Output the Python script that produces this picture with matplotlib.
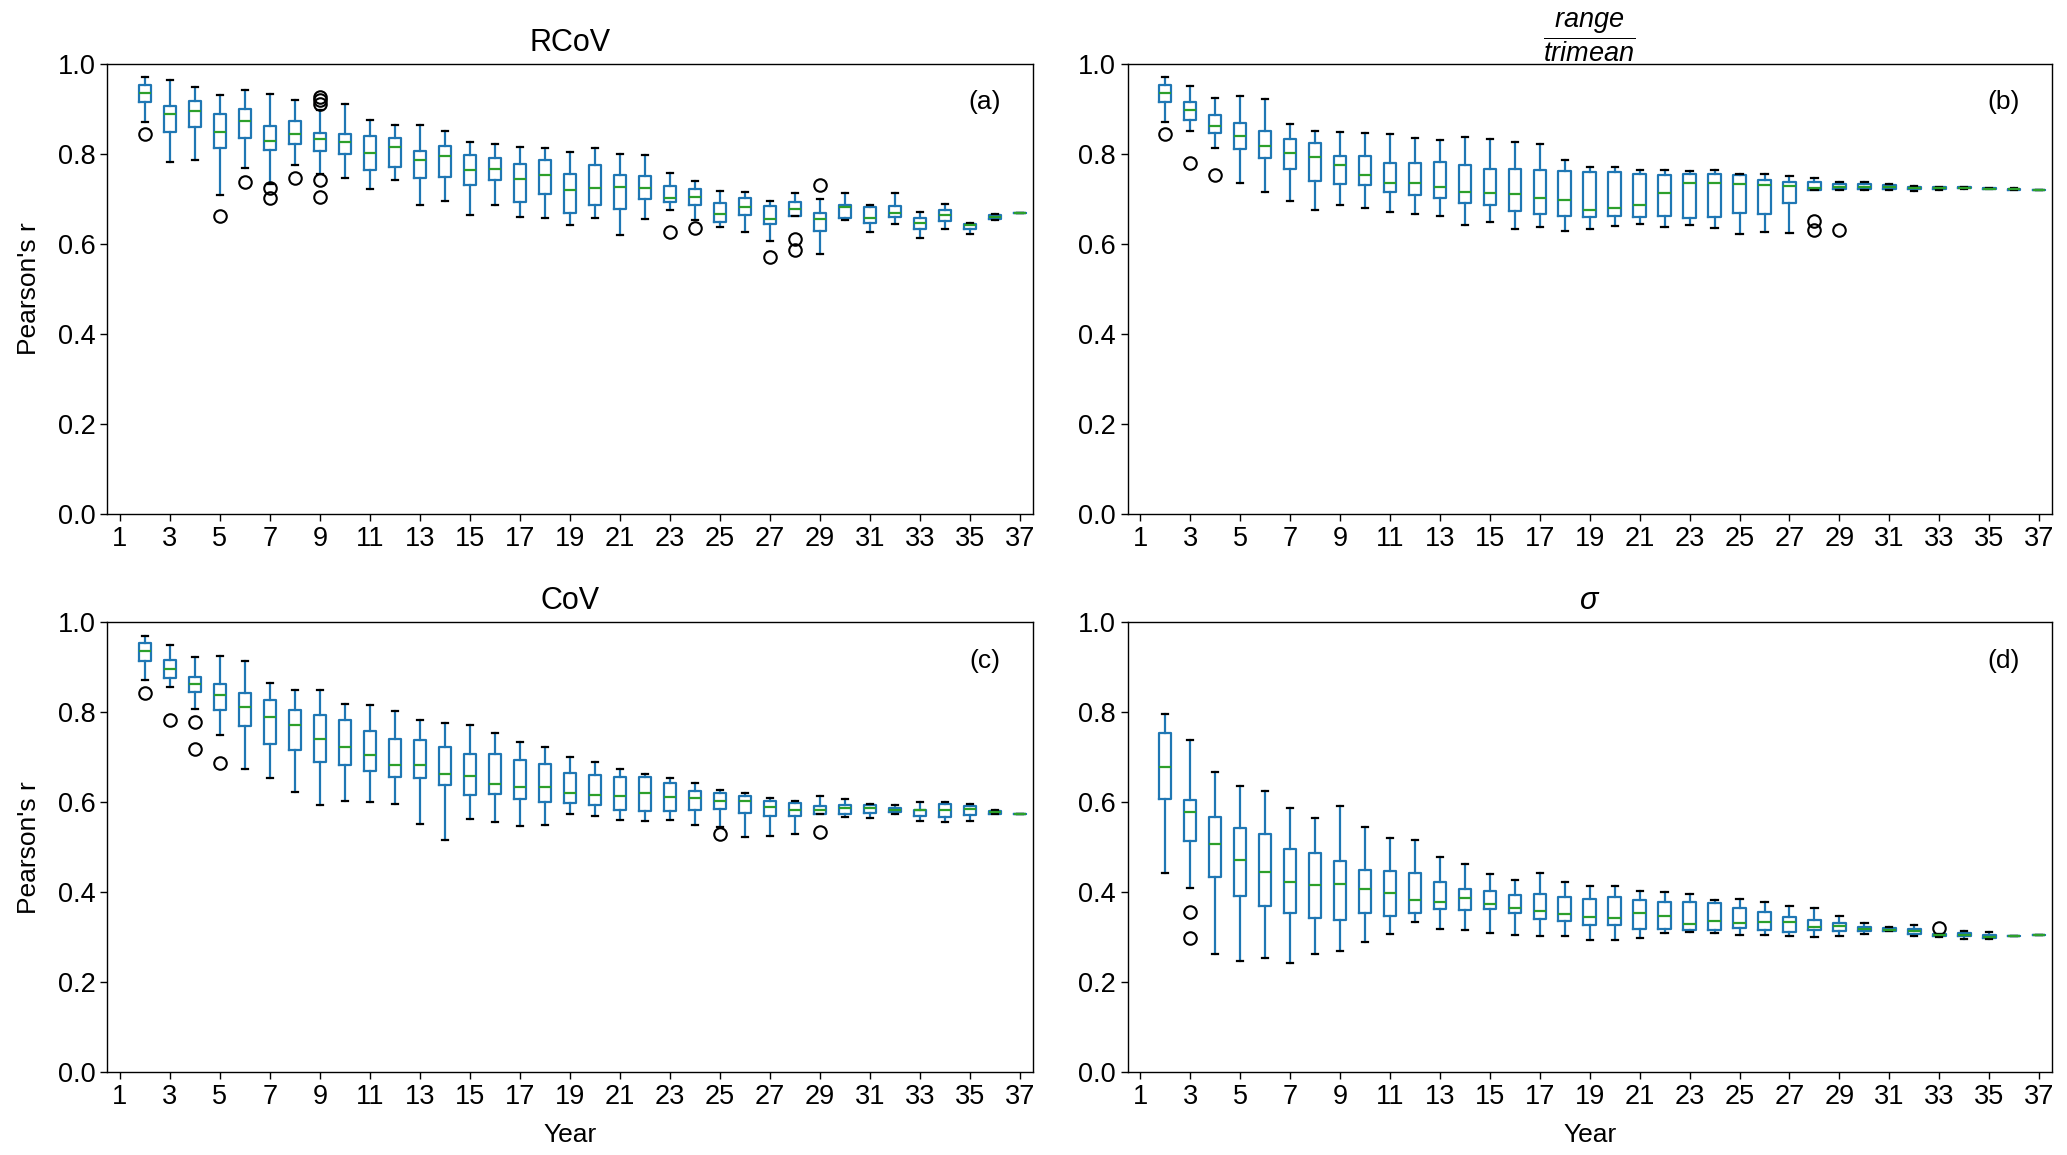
import matplotlib
matplotlib.use("Agg")
import matplotlib.pyplot as plt

plt.rcParams['font.family'] = ['Liberation Sans', 'DejaVu Sans']
plt.rcParams['mathtext.fontset'] = 'custom'
plt.rcParams['mathtext.it'] = 'Liberation Sans:italic'
plt.rcParams['mathtext.rm'] = 'Liberation Sans'
plt.rcParams['mathtext.fallback'] = 'cm'

years = list(range(2, 38))
xtick_labels = list(range(1, 38, 2))

# ---- (a) RCoV ----
whislo_a = [0.871,0.781,0.787,0.709,0.769,0.732,0.775,0.756,0.747,0.721,0.741,0.686,0.696,0.664,0.685,0.660,0.658,0.641,0.658,0.619,0.656,0.676,0.653,0.637,0.627,0.605,0.662,0.578,0.653,0.627,0.644,0.612,0.633,0.622,0.652,0.669]
q1_a = [0.914,0.848,0.860,0.813,0.835,0.808,0.821,0.805,0.799,0.764,0.770,0.747,0.748,0.730,0.741,0.693,0.710,0.669,0.687,0.677,0.699,0.692,0.687,0.649,0.664,0.644,0.662,0.628,0.658,0.647,0.659,0.633,0.650,0.633,0.656,0.669]
med_a = [0.936,0.889,0.896,0.848,0.873,0.828,0.843,0.833,0.827,0.801,0.816,0.787,0.796,0.763,0.767,0.744,0.753,0.720,0.724,0.726,0.723,0.702,0.703,0.667,0.681,0.655,0.678,0.654,0.681,0.658,0.668,0.647,0.663,0.641,0.660,0.669]
q3_a = [0.953,0.906,0.918,0.888,0.899,0.861,0.872,0.846,0.844,0.839,0.836,0.807,0.818,0.798,0.790,0.777,0.787,0.755,0.774,0.752,0.750,0.728,0.721,0.690,0.701,0.683,0.693,0.668,0.685,0.681,0.684,0.657,0.675,0.644,0.664,0.669]
whishi_a = [0.970,0.963,0.949,0.930,0.942,0.932,0.920,0.897,0.910,0.876,0.863,0.863,0.850,0.827,0.821,0.816,0.812,0.803,0.813,0.799,0.798,0.757,0.739,0.718,0.714,0.696,0.712,0.699,0.713,0.687,0.712,0.671,0.688,0.645,0.667,0.669]
fliers_a = {2: [0.844], 5: [0.661], 6: [0.737], 7: [0.723, 0.701], 8: [0.745],
            9: [0.927, 0.919, 0.910, 0.741, 0.703], 23: [0.627], 24: [0.636],
            27: [0.570], 28: [0.611, 0.587], 29: [0.731]}

# ---- (b) range / trimean ----
whislo_b = [0.871,0.851,0.812,0.736,0.716,0.696,0.676,0.687,0.679,0.670,0.667,0.661,0.641,0.649,0.633,0.637,0.628,0.633,0.640,0.644,0.638,0.642,0.636,0.621,0.626,0.624,0.719,0.720,0.720,0.720,0.717,0.720,0.722,0.721,0.719,0.719]
q1_b = [0.914,0.876,0.846,0.810,0.791,0.767,0.739,0.732,0.730,0.714,0.708,0.701,0.691,0.687,0.673,0.666,0.662,0.660,0.661,0.660,0.662,0.657,0.660,0.668,0.667,0.691,0.719,0.721,0.722,0.721,0.722,0.721,0.723,0.722,0.720,0.719]
med_b = [0.936,0.898,0.862,0.839,0.817,0.801,0.793,0.776,0.753,0.736,0.734,0.727,0.716,0.713,0.710,0.702,0.697,0.675,0.679,0.686,0.713,0.736,0.734,0.733,0.731,0.728,0.724,0.726,0.727,0.727,0.724,0.723,0.724,0.722,0.721,0.719]
q3_b = [0.953,0.914,0.885,0.868,0.850,0.832,0.824,0.796,0.794,0.780,0.779,0.781,0.776,0.767,0.766,0.763,0.761,0.760,0.759,0.756,0.753,0.754,0.754,0.752,0.742,0.738,0.738,0.733,0.733,0.731,0.726,0.725,0.725,0.723,0.722,0.719]
whishi_b = [0.970,0.951,0.924,0.928,0.922,0.867,0.851,0.848,0.847,0.843,0.836,0.830,0.837,0.832,0.827,0.821,0.787,0.770,0.770,0.764,0.764,0.761,0.763,0.756,0.755,0.750,0.745,0.737,0.737,0.733,0.728,0.726,0.726,0.723,0.723,0.719]
fliers_b = {2: [0.843], 3: [0.779], 4: [0.753], 28: [0.651, 0.630], 29: [0.630]}

# ---- (c) CoV ----
whislo_c = [0.871,0.856,0.808,0.749,0.673,0.653,0.622,0.593,0.604,0.600,0.596,0.552,0.516,0.563,0.556,0.547,0.550,0.573,0.569,0.561,0.558,0.561,0.549,0.545,0.523,0.525,0.529,0.573,0.567,0.566,0.573,0.559,0.556,0.559,0.573,0.573]
q1_c = [0.914,0.876,0.845,0.806,0.769,0.730,0.716,0.690,0.684,0.669,0.656,0.653,0.638,0.616,0.619,0.607,0.601,0.599,0.594,0.584,0.580,0.581,0.582,0.586,0.576,0.569,0.569,0.573,0.575,0.577,0.579,0.569,0.567,0.571,0.575,0.573]
med_c = [0.936,0.896,0.864,0.838,0.812,0.790,0.772,0.741,0.724,0.705,0.683,0.683,0.664,0.658,0.640,0.633,0.633,0.620,0.617,0.614,0.620,0.612,0.610,0.603,0.602,0.589,0.582,0.583,0.587,0.587,0.584,0.583,0.584,0.585,0.579,0.573]
q3_c = [0.953,0.916,0.879,0.864,0.844,0.828,0.805,0.793,0.784,0.759,0.741,0.738,0.724,0.708,0.707,0.694,0.686,0.665,0.660,0.657,0.656,0.644,0.626,0.621,0.615,0.603,0.598,0.591,0.593,0.593,0.588,0.584,0.596,0.591,0.581,0.573]
whishi_c = [0.970,0.949,0.924,0.926,0.913,0.865,0.850,0.850,0.819,0.816,0.803,0.784,0.776,0.771,0.753,0.734,0.723,0.700,0.690,0.674,0.662,0.653,0.642,0.628,0.621,0.610,0.603,0.613,0.608,0.596,0.593,0.600,0.600,0.596,0.584,0.573]
fliers_c = {2: [0.843], 3: [0.783], 4: [0.779, 0.719], 5: [0.687], 25: [0.530], 29: [0.534]}

# ---- (d) sigma ----
whislo_d = [0.444,0.410,0.264,0.248,0.255,0.244,0.262,0.269,0.289,0.307,0.333,0.319,0.317,0.310,0.306,0.304,0.303,0.293,0.295,0.299,0.310,0.311,0.310,0.305,0.305,0.304,0.301,0.304,0.307,0.313,0.304,0.301,0.297,0.297,0.303,0.306]
q1_d = [0.607,0.514,0.433,0.391,0.369,0.355,0.344,0.339,0.353,0.347,0.353,0.362,0.361,0.363,0.355,0.341,0.336,0.328,0.327,0.319,0.319,0.316,0.316,0.321,0.317,0.312,0.317,0.314,0.313,0.313,0.308,0.304,0.302,0.299,0.303,0.306]
med_d = [0.678,0.579,0.507,0.471,0.445,0.424,0.416,0.419,0.407,0.399,0.383,0.378,0.388,0.373,0.365,0.359,0.351,0.346,0.344,0.355,0.347,0.329,0.337,0.332,0.335,0.333,0.323,0.325,0.318,0.317,0.314,0.306,0.305,0.301,0.303,0.306]
q3_d = [0.753,0.605,0.567,0.544,0.529,0.496,0.487,0.469,0.450,0.447,0.442,0.424,0.408,0.402,0.393,0.396,0.390,0.385,0.390,0.384,0.379,0.379,0.376,0.366,0.356,0.345,0.339,0.331,0.322,0.321,0.319,0.308,0.309,0.306,0.303,0.306]
whishi_d = [0.796,0.739,0.667,0.636,0.625,0.588,0.565,0.592,0.546,0.520,0.516,0.479,0.462,0.440,0.427,0.444,0.424,0.414,0.413,0.404,0.401,0.396,0.384,0.385,0.378,0.369,0.366,0.347,0.331,0.324,0.327,0.307,0.313,0.311,0.303,0.306]
fliers_d = {3: [0.356, 0.298], 33: [0.320]}

panels = [
    ("RCoV", "(a)", whislo_a, q1_a, med_a, q3_a, whishi_a, fliers_a),
    (r"$\dfrac{range}{trimean}$", "(b)", whislo_b, q1_b, med_b, q3_b, whishi_b, fliers_b),
    ("CoV", "(c)", whislo_c, q1_c, med_c, q3_c, whishi_c, fliers_c),
    (r"$\sigma$", "(d)", whislo_d, q1_d, med_d, q3_d, whishi_d, fliers_d),
]

W, H = 2067, 1155
fig = plt.figure(figsize=(W / 100, H / 100), dpi=100)
rects = [
    [107.3 / W, 1 - 513.7 / H, 925.4 / W, 450 / H],
    [1127.7 / W, 1 - 513.7 / H, 924.0 / W, 450 / H],
    [107.3 / W, 1 - 1072.3 / H, 925.4 / W, 450 / H],
    [1127.7 / W, 1 - 1072.3 / H, 924.0 / W, 450 / H],
]

blue = '#1f77b4'
green = '#2ca02c'
lw = 1.6

for i, (title, tag, wl, q1, med, q3, wh, fl) in enumerate(panels):
    ax = fig.add_axes(rects[i])
    stats = []
    for j, yr in enumerate(years):
        stats.append(dict(whislo=wl[j], q1=q1[j], med=med[j], q3=q3[j],
                          whishi=wh[j], fliers=fl.get(yr, [])))
    ax.bxp(stats, positions=years, widths=0.5, showfliers=True,
           boxprops=dict(color=blue, linewidth=lw),
           whiskerprops=dict(color=blue, linewidth=lw),
           capprops=dict(color='k', linewidth=lw),
           medianprops=dict(color=green, linewidth=lw),
           flierprops=dict(marker='o', markerfacecolor='none',
                           markeredgecolor='k', markersize=9,
                           markeredgewidth=1.5))
    ax.set_xlim(0.5, 37.5)
    ax.set_ylim(0.0, 1.0)
    ax.set_xticks(xtick_labels)
    ax.set_xticklabels([str(v) for v in xtick_labels])
    ax.set_yticks([0.0, 0.2, 0.4, 0.6, 0.8, 1.0])
    ax.set_yticklabels(["0.0", "0.2", "0.4", "0.6", "0.8", "1.0"])
    ax.tick_params(labelsize=19.5, length=5, width=1.0)
    for s in ax.spines.values():
        s.set_linewidth(1.0)
    if i == 1:
        ax.set_title(title, fontsize=19.5, pad=4)
    else:
        ax.set_title(title, fontsize=22, pad=9.5)
    ax.text(0.948, 0.915, tag, transform=ax.transAxes, ha='center',
            va='center', fontsize=19)
    if i in (0, 2):
        ax.set_ylabel("Pearson's r", fontsize=19, labelpad=12)
    if i in (2, 3):
        ax.set_xlabel("Year", fontsize=19, labelpad=9)

fig.savefig("out.png", dpi=100)
